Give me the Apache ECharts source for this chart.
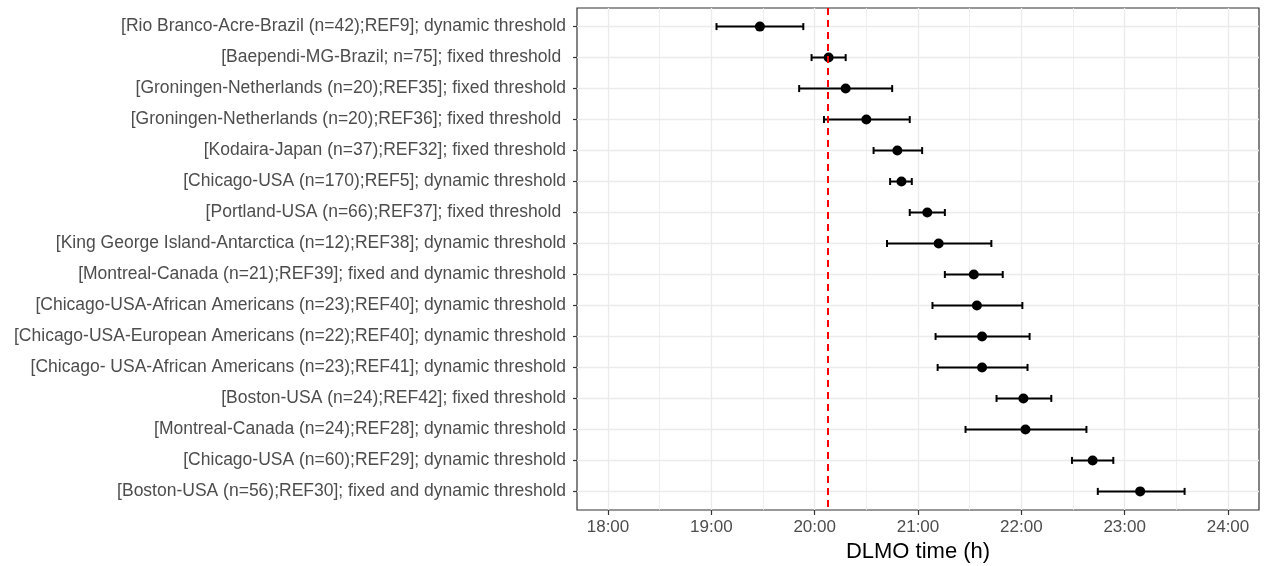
<!DOCTYPE html>
<html>
<head>
<meta charset="utf-8">
<script src="https://cdn.jsdelivr.net/npm/echarts@6/dist/echarts.min.js"></script>
<style>
  html, body { margin: 0; padding: 0; background: #fff; }
  #chart { width: 1268px; height: 566px; }
</style>
</head>
<body>
<div id="chart"></div>
<script>
// studies, top to bottom
const studies = [
  '[Rio Branco-Acre-Brazil (n=42);REF9]; dynamic threshold',
  '[Baependi-MG-Brazil; n=75]; fixed threshold ',
  '[Groningen-Netherlands (n=20);REF35]; fixed threshold',
  '[Groningen-Netherlands (n=20);REF36]; fixed threshold ',
  '[Kodaira-Japan (n=37);REF32]; fixed threshold',
  '[Chicago-USA (n=170);REF5]; dynamic threshold',
  '[Portland-USA (n=66);REF37]; fixed threshold ',
  '[King George Island-Antarctica (n=12);REF38]; dynamic threshold',
  '[Montreal-Canada (n=21);REF39]; fixed and dynamic threshold',
  '[Chicago-USA-African Americans (n=23);REF40]; dynamic threshold',
  '[Chicago-USA-European Americans (n=22);REF40]; dynamic threshold',
  '[Chicago- USA-African Americans (n=23);REF41]; dynamic threshold',
  '[Boston-USA (n=24);REF42]; fixed threshold',
  '[Montreal-Canada (n=24);REF28]; dynamic threshold',
  '[Chicago-USA (n=60);REF29]; dynamic threshold',
  '[Boston-USA (n=56);REF30]; fixed and dynamic threshold'
];

// DLMO in decimal hours
const dlmo  = [19.47, 20.135, 20.30, 20.50, 20.80, 20.84, 21.09, 21.20, 21.54, 21.57, 21.62, 21.62, 22.02, 22.04, 22.69, 23.15];
const lower = [19.05, 19.97, 19.85, 20.09, 20.57, 20.73, 20.92, 20.70, 21.26, 21.14, 21.17, 21.19, 21.76, 21.46, 22.49, 22.74];
const upper = [19.89, 20.30, 20.75, 20.92, 21.04, 20.94, 21.26, 21.71, 21.82, 22.01, 22.08, 22.06, 22.29, 22.63, 22.89, 23.58];

const refLine = 20.13; // dashed red line
const hourTicks = [18, 19, 20, 21, 22, 23, 24];
const halfTicks = [17.5, 18.5, 19.5, 20.5, 21.5, 22.5, 23.5];
const rows = studies.map((s, i) => i + 1);

const font = 'Liberation Sans, Arial, sans-serif';
const myChart = echarts.init(document.getElementById('chart'));

const option = {
  backgroundColor: '#fff',
  animation: false,
  grid: {
    left: 577, right: 9, top: 8, bottom: 56,
    outerBoundsMode: 'none', containLabel: false,
    show: true, borderColor: '#333', borderWidth: 1.2, backgroundColor: '#fff'
  },
  xAxis: {
    type: 'value', min: 17.7, max: 24.3,
    name: 'DLMO time (h)', nameLocation: 'middle', nameGap: 30,
    nameTextStyle: { color: '#000', fontSize: 22, fontFamily: font },
    axisLine: { show: false },
    axisTick: { show: true, customValues: hourTicks, length: 5, lineStyle: { color: '#333', width: 1.2 } },
    axisLabel: {
      customValues: hourTicks, color: '#4d4d4d', fontSize: 17, fontFamily: font, margin: 9,
      formatter: v => v + ':00'
    },
    splitLine: { show: false }
  },
  yAxis: {
    type: 'value', min: 0.4, max: 16.6, inverse: true,
    axisLine: { show: false },
    axisTick: { show: true, customValues: rows, length: 4, lineStyle: { color: '#333', width: 1.2 } },
    axisLabel: {
      customValues: rows, color: '#4d4d4d', fontSize: 17.5, fontFamily: font, margin: 11,
      formatter: v => studies[v - 1]
    },
    splitLine: { show: false }
  },
  series: [
    { // grid lines
      type: 'line', data: [], z: 1, silent: true,
      markLine: {
        z: 1, silent: true, symbol: 'none', label: { show: false }, animation: false,
        data: [].concat(
          halfTicks.map(v => ({ xAxis: v, lineStyle: { color: '#ebebeb', width: 0.8, type: 'solid' } })),
          hourTicks.map(v => ({ xAxis: v, lineStyle: { color: '#ebebeb', width: 1.3, type: 'solid' } })),
          rows.map(v => ({ yAxis: v, lineStyle: { color: '#ebebeb', width: 1.3, type: 'solid' } }))
        )
      }
    },
    { // error bars
      type: 'custom', z: 3, silent: true,
      data: rows.map((r, i) => [lower[i], upper[i], r]),
      encode: { x: [0, 1], y: 2 },
      renderItem: (params, api) => {
        const a = api.coord([api.value(0), api.value(2)]);
        const b = api.coord([api.value(1), api.value(2)]);
        const h = 3.5;
        const seg = (x1, y1, x2, y2) => ({
          type: 'line',
          shape: { x1, y1, x2, y2 },
          style: { stroke: '#000', lineWidth: 2, fill: null, opacity: 1 }
        });
        return {
          type: 'group',
          children: [
            seg(a[0], a[1], b[0], b[1]),
            seg(a[0], a[1] - h, a[0], a[1] + h),
            seg(b[0], b[1] - h, b[0], b[1] + h)
          ]
        };
      }
    },
    { // point estimates
      type: 'scatter', z: 4, symbol: 'circle', symbolSize: 10,
      itemStyle: { color: '#000', opacity: 1 },
      data: rows.map((r, i) => [dlmo[i], r])
    },
    { // reference line
      type: 'line', data: [], z: 10, silent: true,
      markLine: {
        z: 10, silent: true, symbol: 'none', label: { show: false }, animation: false,
        lineStyle: { color: '#ff0000', width: 2, type: [7, 5] },
        data: [{ xAxis: refLine }]
      }
    }
  ]
};

myChart.setOption(option);
</script>
</body>
</html>
